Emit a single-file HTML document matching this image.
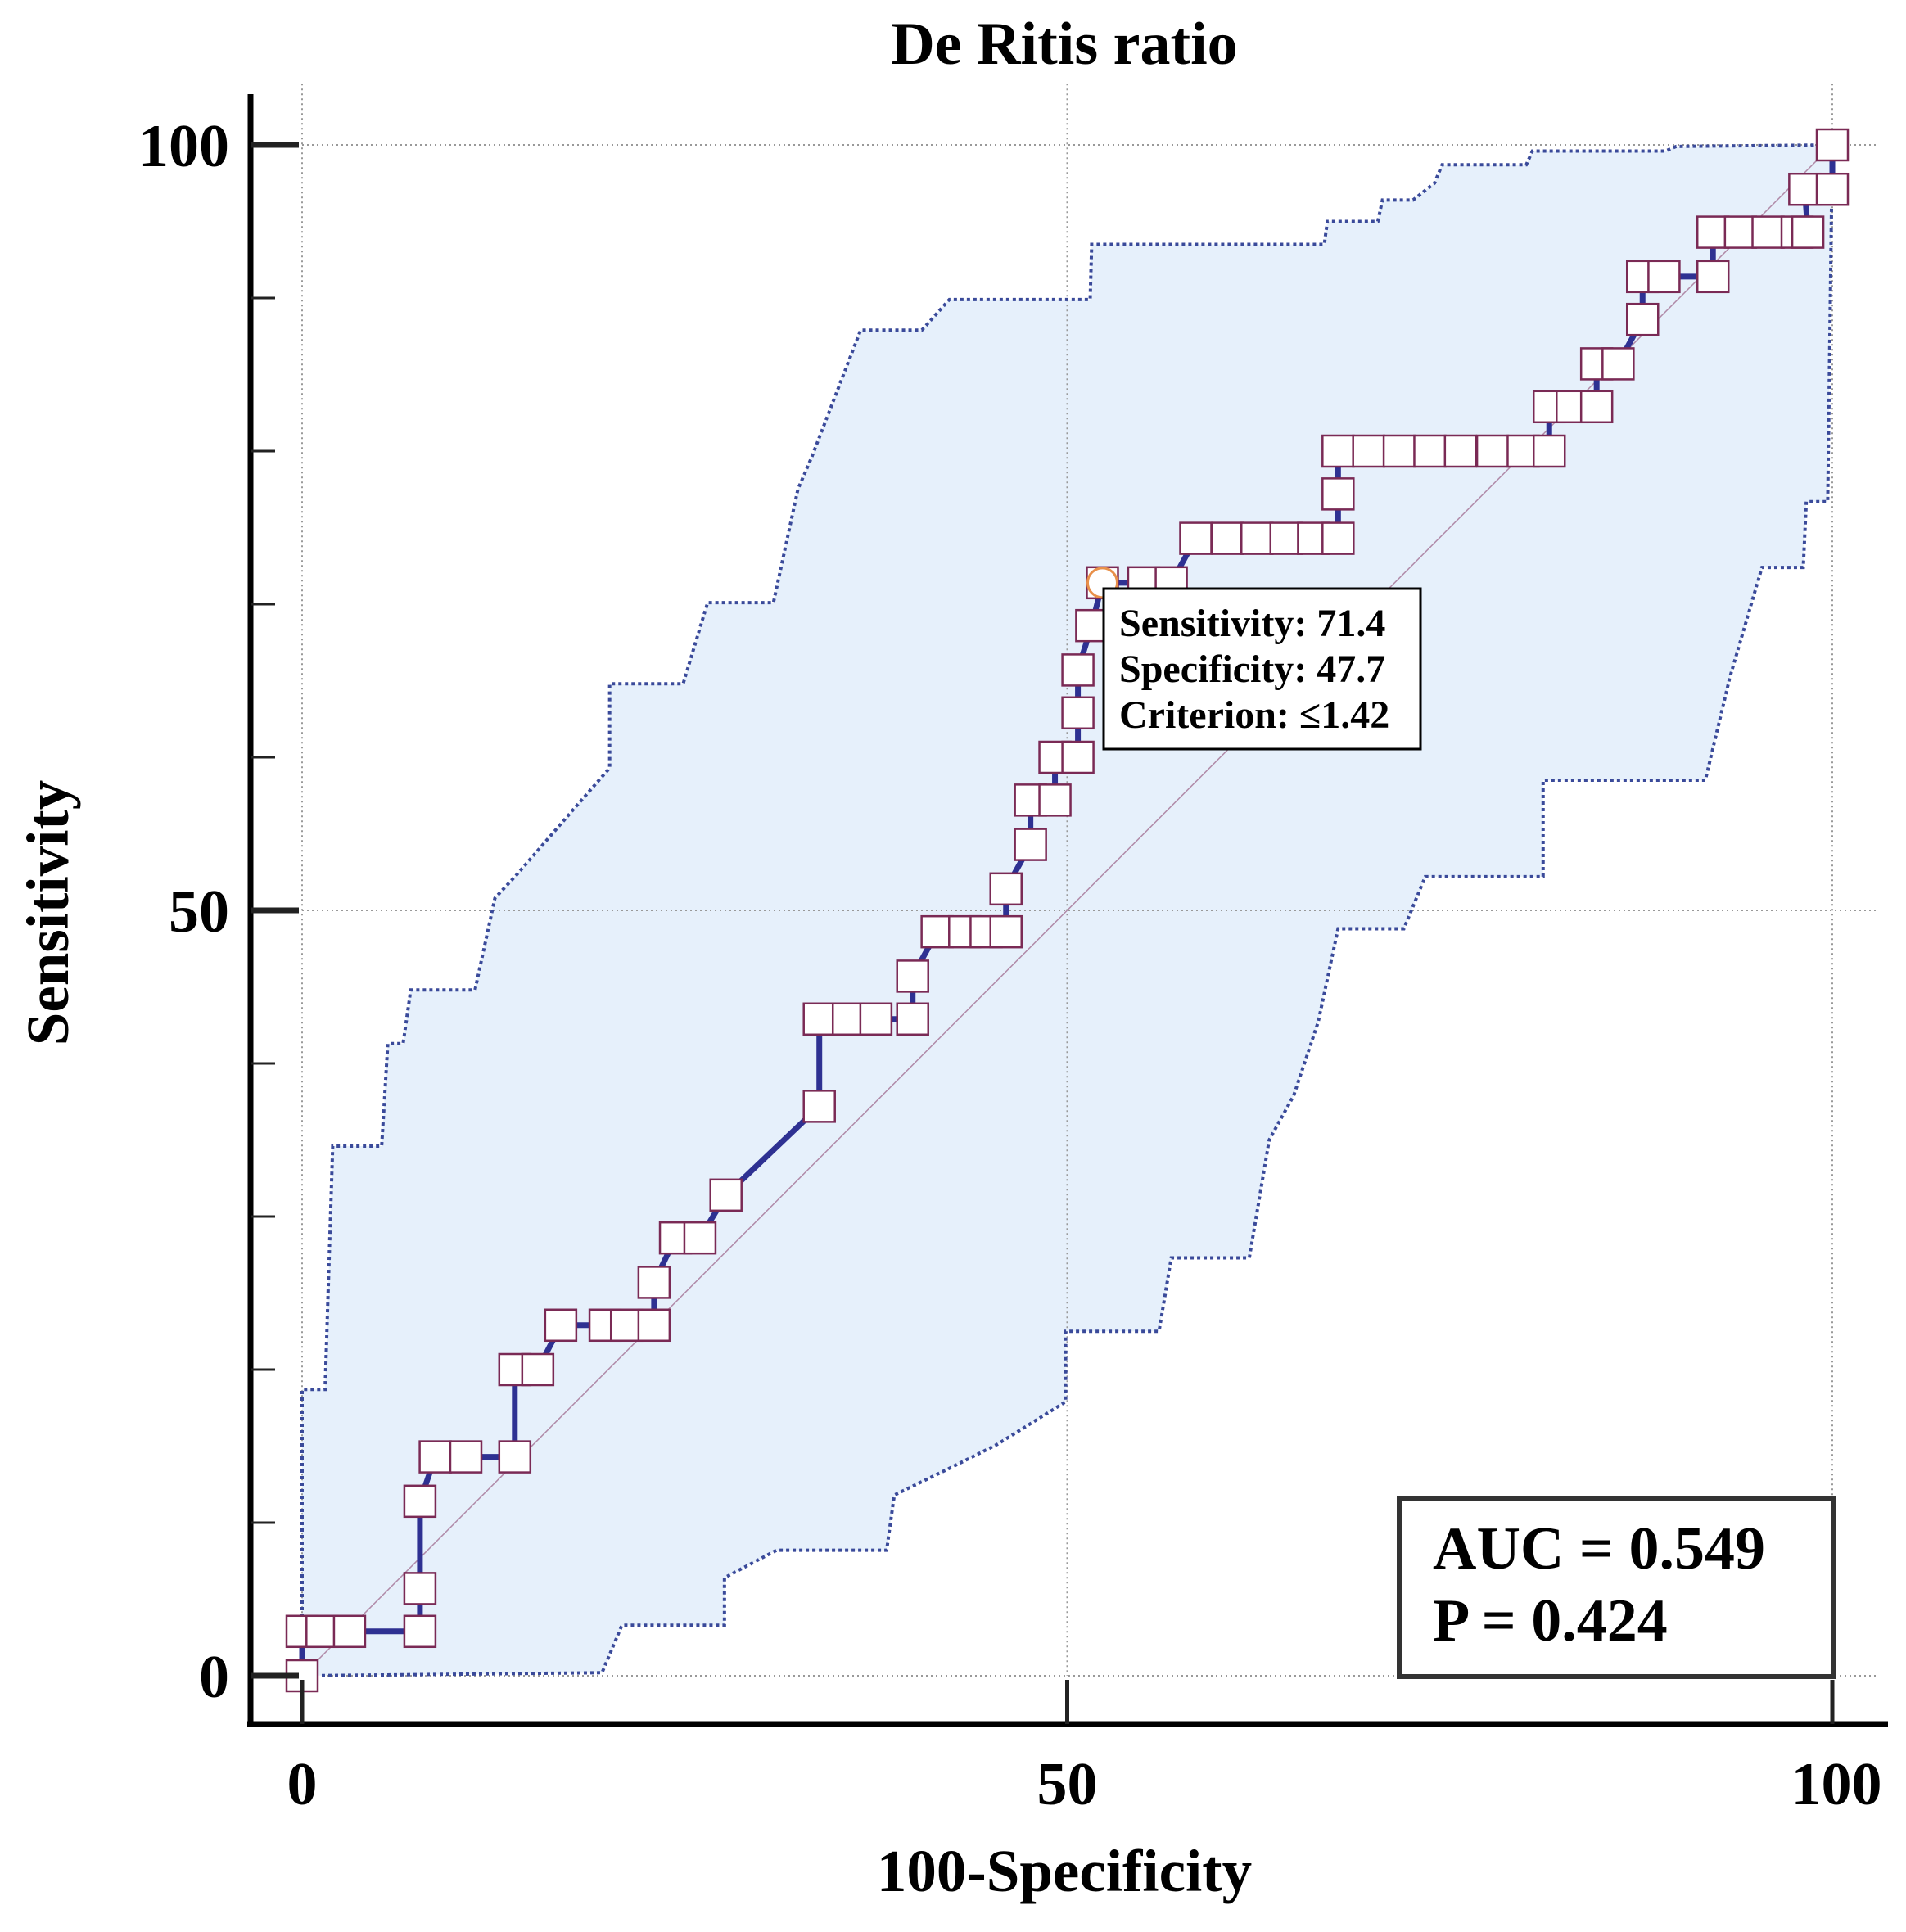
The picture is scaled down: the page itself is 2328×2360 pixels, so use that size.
<!DOCTYPE html>
<html><head><meta charset="utf-8"><style>
html,body{margin:0;padding:0;background:#fff;}
svg{display:block;font-family:"Liberation Serif",serif;font-weight:bold;}
</style></head><body>
<svg id="chart" width="2328" height="2360" viewBox="0 0 2328 2360">
<text x="1300" y="78" font-size="74" text-anchor="middle">De Ritis ratio</text>
<g id="plot"></g>
<text x="1300" y="2310" font-size="73" text-anchor="middle">100-Specificity</text>
<text transform="translate(83,1115) rotate(-90)" font-size="73" text-anchor="middle">Sensitivity</text>
</svg>
<script>
const rocX=[0,0,1.3,3.1,7.7,7.7,7.7,8.7,10.7,13.9,13.9,15.4,16.9,19.8,21.2,23.0,23.0,24.4,26.0,27.7,33.8,33.8,35.7,37.5,39.9,39.9,41.5,43.3,44.7,46.0,46.0,47.6,47.6,49.2,49.2,50.7,50.7,50.7,51.6,52.3,55.0,56.8,58.4,60.5,62.4,64.3,66.1,67.7,67.7,67.7,69.7,71.7,73.7,75.7,77.8,79.8,81.5,81.5,83.0,84.6,84.6,86.0,87.6,87.6,89.0,92.2,92.2,94.0,95.8,97.7,98.4,98.2,100,100];
const rocY=[0,2.9,2.9,2.9,2.9,5.7,11.4,14.3,14.3,14.3,20.0,20.0,22.9,22.9,22.9,22.9,25.7,28.6,28.6,31.4,37.2,42.9,42.9,42.9,42.9,45.7,48.6,48.6,48.6,48.6,51.4,54.3,57.2,57.2,60.0,60.0,62.9,65.7,68.6,71.4,71.4,71.4,74.3,74.3,74.3,74.3,74.3,74.3,77.2,80.0,80.0,80.0,80.0,80.0,80.0,80.0,80.0,82.9,82.9,82.9,85.7,85.7,88.6,91.4,91.4,91.4,94.3,94.3,94.3,94.3,94.3,97.1,97.1,100];
const upX=[0,0,1.5,2.0,5.2,5.6,6.6,7.1,11.3,12.6,14,16,18,20.1,20.1,24.9,26.5,30.8,32.4,33.3,36.5,40.5,42.3,51.5,51.6,66.8,67.0,70.3,70.6,72.6,74.0,74.5,80.0,80.4,89.1,89.8,100];
const upY=[0,18.7,18.7,34.6,34.6,41.3,41.3,44.8,44.8,50.8,52.3,54.6,56.9,59.3,64.8,64.8,70.1,70.1,77.5,79.6,87.9,87.9,89.9,89.9,93.5,93.5,95.0,95.0,96.4,96.4,97.5,98.7,98.7,99.6,99.6,99.9,100];
const loX=[0,19.6,20.9,27.6,27.6,31.0,38.2,38.7,42.2,45.4,49.9,49.9,56.0,56.8,61.9,63.2,64.8,66.4,67.7,72.0,73.4,81.1,81.1,91.7,93.3,95.4,98.1,98.3,99.7,100];
const loY=[0,0.2,3.3,3.3,6.4,8.2,8.2,11.8,13.5,15.1,17.9,22.5,22.5,27.3,27.3,35.0,37.9,42.7,48.8,48.8,52.2,52.2,58.5,58.5,65.2,72.4,72.4,76.7,76.7,100];
const ticks=[0,50,100];
const tickLabels=["0","50","100"];
const minorTicks=[10,20,30,40,60,70,80,90];

const NS="http://www.w3.org/2000/svg";
const sx=v=>369+18.69*v, sy=v=>2047-18.7*v;
const g=document.getElementById('plot');
function mk(t,a){const e=document.createElementNS(NS,t);for(const k in a)e.setAttribute(k,a[k]);g.appendChild(e);return e;}
function pts(xs,ys){return xs.map((x,i)=>sx(x)+','+sy(ys[i])).join(' ');}
let band=mk('polygon',{points:pts(upX,upY)+' '+pts(loX.slice().reverse(),loY.slice().reverse()),fill:'#e6f0fb'});


ticks.forEach(t=>{
 let a=mk('line',{x1:sx(t),x2:sx(t),y1:sy(104),y2:sy(0),stroke:'#999','stroke-width':2,'stroke-dasharray':'2 4'});
 
 
 let b=mk('line',{x1:sx(0),x2:sx(103),y1:sy(t),y2:sy(t),stroke:'#999','stroke-width':2,'stroke-dasharray':'2 4'});
 
 
});
let diag=mk('line',{x1:sx(0),y1:sy(0),x2:sx(100),y2:sy(100),stroke:'#b08aa8','stroke-width':1.5});


let up=mk('polyline',{points:pts(upX,upY),fill:'none',stroke:'#3a4a9a','stroke-width':4,'stroke-dasharray':'4 4'});


let lo=mk('polyline',{points:pts(loX,loY),fill:'none',stroke:'#3a4a9a','stroke-width':4,'stroke-dasharray':'4 4'});


let roc=mk('polyline',{points:pts(rocX,rocY),fill:'none',stroke:'#2e3192','stroke-width':7});


rocX.forEach((x,i)=>{
 let r=mk('rect',{x:sx(x)-19,y:sy(rocY[i])-19,width:38,height:38,fill:'#fff',stroke:'#7a2a55','stroke-width':2.5});
 
 
});
let c=mk('circle',{cx:sx(52.3),cy:sy(71.4),r:18,fill:'none',stroke:'#e8904a','stroke-width':3});


let ya=mk('line',{x1:306,x2:306,y1:115,y2:2109,stroke:'#000','stroke-width':7});


let xa=mk('line',{x1:302,x2:2306,y1:2106,y2:2106,stroke:'#000','stroke-width':7});


ticks.forEach((t,i)=>{
 let a=mk('line',{x1:306,x2:365,y1:sy(t),y2:sy(t),stroke:'#222','stroke-width':7});
 
 
 let b=mk('line',{x1:sx(t),x2:sx(t),y1:2106,y2:2052,stroke:'#222','stroke-width':5});
 
 
 let ty=mk('text',{x:280,y:sy(t)+26,'font-size':74,'text-anchor':'end'});ty.textContent=tickLabels[i];
 
 
 let tx=mk('text',{x:sx(t)+(t==100?5:0),y:2204,'font-size':74,'text-anchor':'middle'});tx.textContent=tickLabels[i];
 
 
});
minorTicks.forEach(t=>{
 let a=mk('line',{x1:306,x2:336,y1:sy(t),y2:sy(t),stroke:'#222','stroke-width':3});
 
 
});
let tb=mk('rect',{x:1348,y:719,width:387,height:196,fill:'#fff',stroke:'#000','stroke-width':3});


[["Sensitivity: 71.4",777],["Specificity: 47.7",833],["Criterion: \u22641.42",889]].forEach(([s,y])=>{
 let t=mk('text',{x:1367,y:y,'font-size':48});t.textContent=s;
 
 
});
let ab=mk('rect',{x:1709,y:1831,width:531,height:217,fill:'#fff',stroke:'#333','stroke-width':6});


let a1=mk('text',{x:1750,y:1916,'font-size':74});a1.textContent="AUC = 0.549";


let a2=mk('text',{x:1750,y:2004,'font-size':74});a2.textContent="P = 0.424";


</script>
</body></html>
